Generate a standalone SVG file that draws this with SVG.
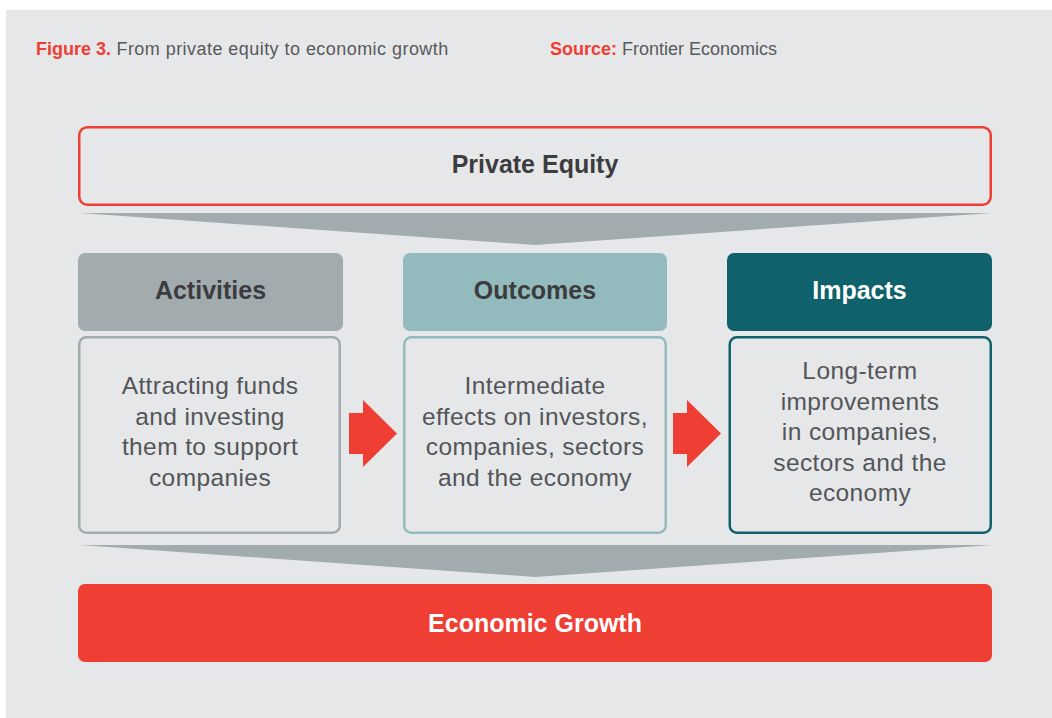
<svg xmlns="http://www.w3.org/2000/svg" width="1052" height="718" viewBox="0 0 1052 718">
<style>
.cap{font-family:"Liberation Sans",Arial,sans-serif;font-size:18px}
.capb{font-weight:bold;fill:#ef3e33}
.capn{fill:#58595b}
.sp{letter-spacing:0.45px}
.head{font-family:"Liberation Sans",Arial,sans-serif;font-size:25px;font-weight:bold;text-anchor:middle}
.body{font-family:"Liberation Sans",Arial,sans-serif;font-size:24.5px;letter-spacing:0.4px;fill:#535558;text-anchor:middle}
.red{fill:#ef3e33}
.funnel{fill:#a2abae}
</style>
<rect x="0" y="0" width="1052" height="718" fill="#ffffff"/>
<rect x="6" y="10" width="1046" height="708" fill="#e6e7e9"/>
<g id="caption">
<text class="cap" x="36" y="55"><tspan class="capb">Figure 3.</tspan><tspan class="capn sp"> From private equity to economic growth</tspan></text>
<text class="cap" x="550" y="55"><tspan class="capb">Source:</tspan><tspan class="capn"> Frontier Economics</tspan></text>
</g>
<g id="private-equity">
<rect x="79.25" y="127.25" width="911.5" height="77.5" rx="8" fill="#e6e7e9" stroke="#ef3e33" stroke-width="2.5"/>
<text class="head" x="535" y="173" fill="#3c3c3e">Private Equity</text>
</g>
<g id="activities">
<rect x="78" y="253" width="265" height="78" rx="7" fill="#a2abae"/>
<text class="head" x="210.5" y="299" fill="#3c3c3e">Activities</text>
<rect x="79.25" y="337.25" width="260.5" height="195.5" rx="7" fill="#e6e7e9" stroke="#a2abae" stroke-width="2.5"/>
<text class="body" x="210" y="394">Attracting funds</text>
<text class="body" x="210" y="424.5">and investing</text>
<text class="body" x="210" y="455">them to support</text>
<text class="body" x="210" y="485.5">companies</text>
</g>
<g id="outcomes">
<rect x="403" y="253" width="264" height="78" rx="7" fill="#93babd"/>
<text class="head" x="535" y="299" fill="#3c3c3e">Outcomes</text>
<rect x="404.25" y="337.25" width="261.5" height="195.5" rx="7" fill="#e6e7e9" stroke="#93babd" stroke-width="2.5"/>
<text class="body" x="535" y="394">Intermediate</text>
<text class="body" x="535" y="424.5">effects on investors,</text>
<text class="body" x="535" y="455">companies, sectors</text>
<text class="body" x="535" y="485.5">and the economy</text>
</g>
<g id="impacts">
<rect x="727" y="253" width="265" height="78" rx="7" fill="#0f626b"/>
<text class="head" x="859.5" y="299" fill="#ffffff">Impacts</text>
<rect x="729.75" y="337.25" width="261" height="195.5" rx="7" fill="#e6e7e9" stroke="#0f626b" stroke-width="2.5"/>
<text class="body" x="860" y="379">Long-term</text>
<text class="body" x="860" y="409.5">improvements</text>
<text class="body" x="860" y="440">in companies,</text>
<text class="body" x="860" y="470.5">sectors and the</text>
<text class="body" x="860" y="501">economy</text>
</g>
<g id="economic-growth">
<rect x="78" y="584" width="914" height="78" rx="7" fill="#ef3e33"/>
<text class="head" x="535" y="632" fill="#ffffff">Economic Growth</text>
</g>
<g id="connectors">
<polygon class="funnel" points="80,213 992,213 535,245"/>
<polygon class="funnel" points="80,545 992,545 535,577"/>
<polygon class="red" points="349,413 363,413 363,400 397,433.5 363,467 363,454 349,454"/>
<polygon class="red" points="673,413 687,413 687,400 721,433.5 687,467 687,454 673,454"/>
</g>
</svg>
